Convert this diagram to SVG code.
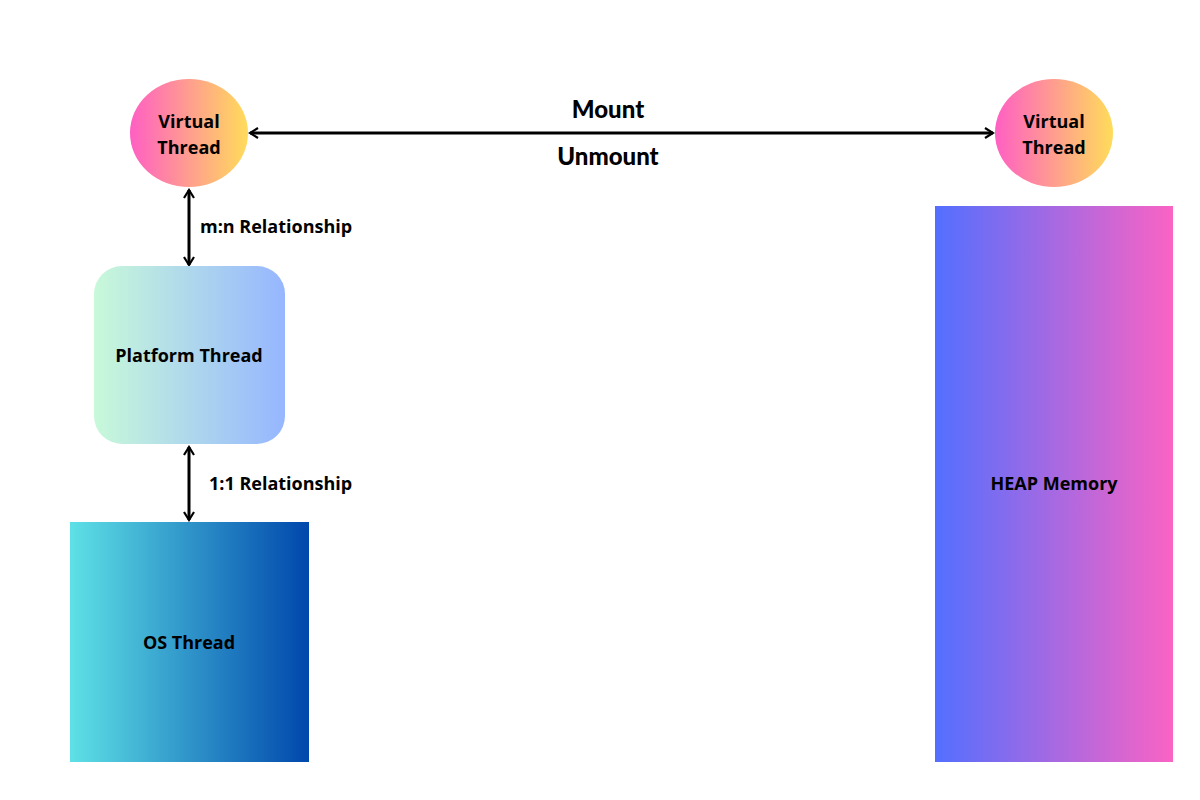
<svg xmlns="http://www.w3.org/2000/svg" width="1200" height="800" viewBox="0 0 1200 800">
<defs>
<linearGradient id="gV" x1="0" x2="1" y1="0" y2="0"><stop offset="0" stop-color="#ff5fc3"/><stop offset="1" stop-color="#ffdc5a"/></linearGradient>
<linearGradient id="gP" x1="0" x2="1" y1="0" y2="0"><stop offset="0" stop-color="#c8f9d9"/><stop offset="1" stop-color="#96b6ff"/></linearGradient>
<linearGradient id="gO" x1="0" x2="1" y1="0" y2="0"><stop offset="0" stop-color="#5ee1e6"/><stop offset="1" stop-color="#0047ac"/></linearGradient>
<linearGradient id="gH" x1="0" x2="1" y1="0" y2="0"><stop offset="0" stop-color="#536fff"/><stop offset="1" stop-color="#fa63c4"/></linearGradient>
<marker id="ah" viewBox="0 0 12 12" refX="10" refY="6" markerWidth="12" markerHeight="12" markerUnits="userSpaceOnUse" orient="auto-start-reverse"><path d="M2,1 L10,6 L2,11" fill="none" stroke="#000" stroke-width="2.2"/></marker>
<style>
text{font-family:"Open Sans","Noto Sans",sans-serif;font-weight:bold;fill:#000;text-anchor:middle}
.n{font-size:18px}
.b{font-size:24px;font-family:"Lato","Open Sans",sans-serif;font-weight:900}
.l{font-size:18px;text-anchor:start}
.c{stroke:#000;stroke-width:3;fill:none;marker-start:url(#ah);marker-end:url(#ah)}
</style>
</defs>
<rect width="1200" height="800" fill="#fff"/>
<g id="connectors">
<line class="c" x1="250" y1="133" x2="993" y2="133"/>
<line class="c" x1="189" y1="190" x2="189" y2="265"/>
<line class="c" x1="189" y1="447" x2="189" y2="520"/>
<text class="b" x="608" y="118">Mount</text>
<text class="b" x="608" y="165">Unmount</text>
<text class="l" x="200" y="233">m:n Relationship</text>
<text class="l" x="209" y="490">1:1 Relationship</text>
</g>
<g id="vt1"><ellipse cx="189" cy="133" rx="59" ry="54" fill="url(#gV)"/><text class="n" x="189" y="128">Virtual</text><text class="n" x="189" y="154">Thread</text></g>
<g id="vt2"><ellipse cx="1054" cy="133" rx="59" ry="54" fill="url(#gV)"/><text class="n" x="1054" y="128">Virtual</text><text class="n" x="1054" y="154">Thread</text></g>
<g id="platform"><rect x="94" y="266" width="191" height="178" rx="28" fill="url(#gP)"/><text class="n" x="189" y="362">Platform Thread</text></g>
<g id="os"><rect x="70" y="522" width="239" height="240" fill="url(#gO)"/><text class="n" x="189" y="649">OS Thread</text></g>
<g id="heap"><rect x="935" y="206" width="238" height="556" fill="url(#gH)"/><text class="n" x="1054" y="490">HEAP Memory</text></g>
</svg>
